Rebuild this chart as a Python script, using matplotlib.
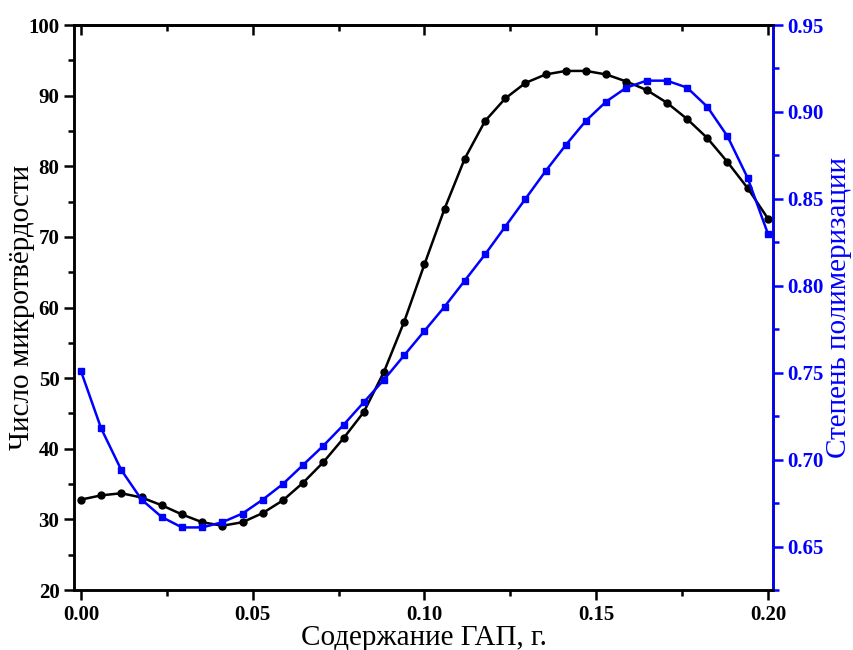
import matplotlib
matplotlib.use('Agg')
import matplotlib.pyplot as plt
from matplotlib.ticker import MultipleLocator

plt.rcParams['font.family'] = ['Liberation Serif', 'DejaVu Serif']

# GAP content, g
x_gap = [i * 0.2 / 34 for i in range(35)]

hardness = [32.8, 33.4, 33.7, 33.1, 32.0, 30.7, 29.6, 29.1, 29.6, 30.9,
            32.7, 35.2, 38.1, 41.5, 45.2, 50.9, 58.0, 66.1, 74.0, 81.1,
            86.4, 89.6, 91.8, 93.0, 93.5, 93.5, 93.0, 92.0, 90.8, 89.0,
            86.7, 84.0, 80.6, 76.9, 72.6]

polymerization = [0.751, 0.718, 0.694, 0.677, 0.667, 0.661, 0.661, 0.664, 0.669, 0.677,
                  0.686, 0.697, 0.708, 0.720, 0.733, 0.746, 0.760, 0.774, 0.788, 0.803,
                  0.818, 0.834, 0.850, 0.866, 0.881, 0.895, 0.906, 0.914, 0.918, 0.918,
                  0.914, 0.903, 0.886, 0.862, 0.830]

fig = plt.figure(figsize=(8.54, 6.5), dpi=100)
ax = fig.add_axes([0.0867, 0.0923, 0.8185, 0.8692])
ax2 = ax.twinx()

ax.plot(x_gap, hardness, color='black', lw=1.8, marker='o', ms=5)
ax2.plot(x_gap, polymerization, color='blue', lw=1.8, marker='s', ms=4.5)

ax.set_xlim(-0.002, 0.2015)
ax.set_ylim(20, 100)
ax2.set_ylim(0.625, 0.95)

ax.xaxis.set_major_locator(MultipleLocator(0.05))
ax.xaxis.set_minor_locator(MultipleLocator(0.025))
ax.yaxis.set_major_locator(MultipleLocator(10))
ax.yaxis.set_minor_locator(MultipleLocator(5))
ax2.yaxis.set_major_locator(MultipleLocator(0.05))
ax2.yaxis.set_minor_locator(MultipleLocator(0.025))

ax.xaxis.set_major_formatter(lambda v, p: f'{v:.2f}')
ax2.yaxis.set_major_formatter(lambda v, p: f'{v:.2f}')

for a in (ax, ax2):
    for s in a.spines.values():
        s.set_linewidth(1.8)
ax2.spines['right'].set_color('blue')

# top ticks point inward, no labels
top = ax.secondary_xaxis('top')
top.xaxis.set_major_locator(MultipleLocator(0.05))
top.xaxis.set_minor_locator(MultipleLocator(0.025))
top.tick_params(which='both', direction='in', labeltop=False, width=1.8)
top.tick_params(which='major', length=7)
top.tick_params(which='minor', length=4)
top.spines['top'].set_linewidth(1.8)

ax.tick_params(axis='x', which='both', direction='out', labelsize=15, width=1.8)
ax.tick_params(axis='x', which='major', length=7)
ax.tick_params(axis='x', which='minor', length=4)
ax.tick_params(axis='y', which='both', direction='out', labelsize=15, width=1.8)
ax.tick_params(axis='y', which='major', length=7)
ax.tick_params(axis='y', which='minor', length=4)
ax2.tick_params(axis='y', which='both', direction='out', colors='blue', labelsize=15, width=1.8)
ax2.tick_params(axis='y', which='major', length=7)
ax2.tick_params(axis='y', which='minor', length=4)

for lbl in ax.get_xticklabels() + ax.get_yticklabels() + ax2.get_yticklabels():
    lbl.set_fontweight('bold')

ax.set_xlabel('Содержание ГАП, г.', fontsize=21)
ax.set_ylabel('Число микротвёрдости', fontsize=21)
ax2.set_ylabel('Степень полимеризации', fontsize=21, color='blue')
ax.xaxis.set_label_coords(0.5, -0.062)
ax.yaxis.set_label_coords(-0.056, 0.5)
ax2.yaxis.set_label_coords(1.076, 0.5)

fig.savefig('out.png', dpi=100)
